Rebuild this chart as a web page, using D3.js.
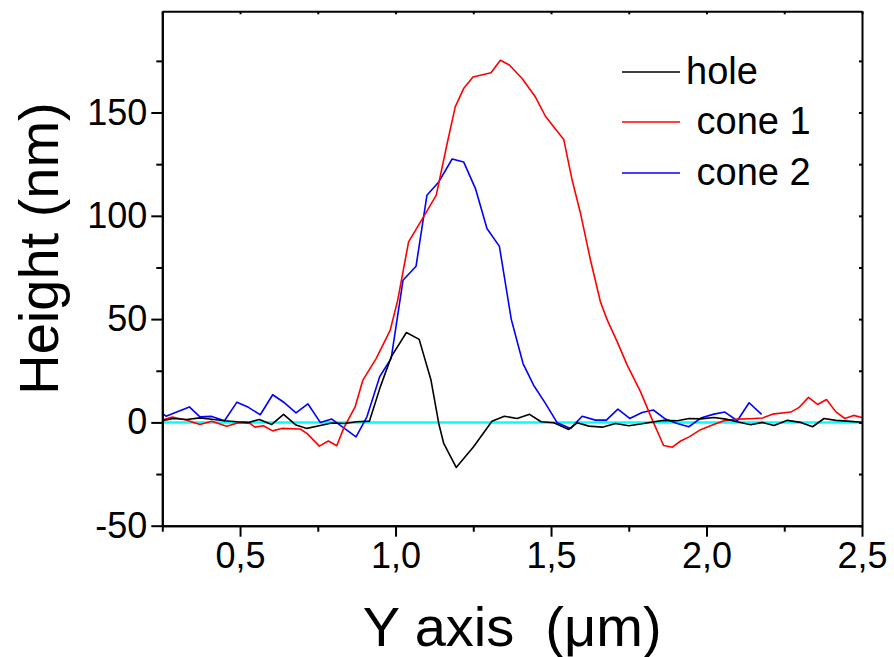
<!DOCTYPE html>
<html>
<head>
<meta charset="utf-8">
<script src="https://cdn.jsdelivr.net/npm/d3@7"></script>
<style>
  body { margin: 0; background: #fff; }
  svg { display: block; font-family: "Liberation Sans", Arial, sans-serif; }
</style>
</head>
<body>
<svg id="chart" width="894" height="657"></svg>
<script>
// ---- data ----
const holeX = [0.25,0.285,0.329,0.371,0.409,0.450,0.490,0.527,0.562,0.602,0.640,0.680,0.715,0.758,0.795,0.835,0.876,0.916,0.951,0.986,1.035,1.076,1.114,1.139,1.155,1.195,1.251,1.310,1.350,1.391,1.431,1.468,1.509,1.557,1.584,1.622,1.665,1.707,1.750,1.788,1.831,1.863,1.906,1.944,1.981,2.024,2.062,2.099,2.142,2.180,2.217,2.260,2.303,2.341,2.378,2.416,2.453,2.5];
const holeY = [0.8,1.9,1.4,2.2,1.5,0.8,0.3,0,1.4,-1.0,3.9,-1.3,-2.9,-1.5,-0.3,-0.5,0.3,0.6,17.2,31.7,43.5,40.2,20.5,-0.5,-10.2,-21.8,-11.8,0.6,3.0,1.9,3.9,0.3,-0.2,-3.4,-0.2,-1.8,-2.3,-0.5,-1.6,-0.8,0.3,1.0,0.8,1.9,1.7,2.4,1.6,0.3,-1.1,0,-1.5,1.0,0,-2.1,1.9,1.0,0.6,0.1];

const cone1X = [0.25,0.282,0.329,0.371,0.409,0.457,0.495,0.532,0.548,0.575,0.605,0.634,0.693,0.715,0.755,0.784,0.811,0.833,0.870,0.895,0.938,0.983,1.007,1.042,1.090,1.131,1.166,1.192,1.219,1.249,1.307,1.337,1.366,1.407,1.450,1.482,1.509,1.541,1.568,1.595,1.627,1.659,1.681,1.713,1.745,1.788,1.826,1.862,1.890,1.917,1.944,1.981,2.019,2.056,2.099,2.140,2.180,2.212,2.271,2.298,2.328,2.357,2.386,2.416,2.445,2.473,2.5];
const cone1Y = [1.1,2.6,1.0,-1.0,0.6,-1.9,-0.2,-0.5,-2.3,-1.6,-4.1,-2.9,-3.2,-5.3,-11.5,-9.0,-11.3,-2.9,7.5,20.5,31.0,44.7,59.2,87.4,99.5,110.0,135.0,152.7,161.6,167.2,169.3,175.3,173.0,166.5,157.5,148.2,143.0,136.9,117.2,101.1,78.5,58.3,49.5,39.0,27.7,14.8,1.1,-11.2,-12.0,-9.0,-7.0,-3.5,-1.3,0.8,1.6,1.8,2.1,4.0,5.0,7.3,12.1,8.7,11.1,5.1,1.9,3.4,2.4];

const cone2X = [0.25,0.262,0.337,0.371,0.409,0.450,0.490,0.527,0.565,0.605,0.643,0.680,0.718,0.758,0.795,0.873,0.908,0.949,0.986,1.024,1.066,1.101,1.139,1.182,1.219,1.257,1.294,1.334,1.372,1.410,1.444,1.482,1.520,1.563,1.600,1.643,1.678,1.715,1.753,1.793,1.829,1.868,1.906,1.943,1.984,2.024,2.059,2.099,2.137,2.177];
const cone2Y = [4.4,3.0,7.5,2.7,2.9,0.8,9.8,7.3,3.7,13.4,9.5,4.6,9.0,0,1.6,-7.0,2.7,22.1,31.0,68.8,75.6,110.0,116.4,127.5,126.1,113.2,93.9,85.2,50.0,28.5,18.0,9.2,-0.2,-2.9,3.0,1.1,1.1,6.4,1.9,4.8,6.0,1.6,-0.5,-2.1,2.3,4.0,5.0,0.8,9.5,3.9];

const seriesNames = ["hole", " cone 1", " cone 2"];
const seriesColors = ["#000000", "#ff0000", "#0000ff"];

const xMajorTicks = [0.5, 1.0, 1.5, 2.0, 2.5];
const xTickLabels = ["0,5", "1,0", "1,5", "2,0", "2,5"];
const xMinorTicks = [0.25, 0.75, 1.25, 1.75, 2.25];
const yMajorTicks = [-50, 0, 50, 100, 150];
const yTickLabels = ["-50", "0", "50", "100", "150"];
const yMinorTicks = [-25, 25, 75, 125, 175];

const xTitle = "Y axis  (\u03bcm)";
const yTitle = "Height (nm)";

// ---- layout ----
const L = 162.3, R = 862, T = 11.3, B = 525.7;
const x = d3.scaleLinear().domain([0.25, 2.5]).range([L, R]);
const y = d3.scaleLinear().domain([-50, 199]).range([B, T]);

const svg = d3.select("#chart");

svg.append("defs").append("clipPath").attr("id", "clip")
  .append("rect").attr("x", L).attr("y", T).attr("width", R - L).attr("height", B - T);

// zero reference line
svg.append("line")
  .attr("x1", x(0.25)).attr("x2", x(2.5))
  .attr("y1", y(0)).attr("y2", y(0))
  .attr("stroke", "#00ffff").attr("stroke-width", 2.5);

const line = d3.line().x(d => x(d[0])).y(d => y(d[1]));
const series = [
  d3.zip(holeX, holeY),
  d3.zip(cone1X, cone1Y),
  d3.zip(cone2X, cone2Y)
];
const g = svg.append("g").attr("clip-path", "url(#clip)");
[2, 1, 0].forEach(i => {
  g.append("path").datum(series[i])
    .attr("d", line)
    .attr("fill", "none")
    .attr("stroke", seriesColors[i])
    .attr("stroke-width", 1.6)
    .attr("stroke-linejoin", "round");
});

// ---- axes ----
function styleAxis(sel) {
  sel.select(".domain").attr("stroke", "#000").attr("stroke-width", 2);
  sel.selectAll(".tick line").attr("stroke", "#000").attr("stroke-width", 2);
  sel.selectAll(".tick text").attr("fill", "#000")
    .style("font-size", "36px").style("font-family", "'Liberation Sans', Arial, sans-serif");
}

// bottom
const gb = svg.append("g").attr("transform", `translate(0,${B})`)
  .call(d3.axisBottom(x).tickValues(xMajorTicks).tickSize(11).tickSizeOuter(0).tickPadding(6)
    .tickFormat((d, i) => xTickLabels[i]));
styleAxis(gb);
gb.selectAll(".tick text").attr("dy", "0.71em");
const gbm = svg.append("g").attr("transform", `translate(0,${B})`)
  .call(d3.axisBottom(x).tickValues(xMinorTicks).tickSize(6).tickSizeOuter(0).tickFormat(""));
styleAxis(gbm);

// left
const gl = svg.append("g").attr("transform", `translate(${L},0)`)
  .call(d3.axisLeft(y).tickValues(yMajorTicks).tickSize(11).tickSizeOuter(0).tickPadding(4)
    .tickFormat((d, i) => yTickLabels[i]));
styleAxis(gl);
const glm = svg.append("g").attr("transform", `translate(${L},0)`)
  .call(d3.axisLeft(y).tickValues(yMinorTicks).tickSize(6).tickSizeOuter(0).tickFormat(""));
styleAxis(glm);

// top (ticks inward)
const gt = svg.append("g").attr("transform", `translate(0,${T})`)
  .call(d3.axisTop(x).tickValues(xMajorTicks.concat(xMinorTicks)).tickSize(-3).tickSizeOuter(0).tickFormat(""));
styleAxis(gt);
// right (ticks inward)
const gr = svg.append("g").attr("transform", `translate(${R},0)`)
  .call(d3.axisRight(y).tickValues(yMajorTicks.concat(yMinorTicks)).tickSize(-3).tickSizeOuter(0).tickFormat(""));
styleAxis(gr);

// ---- titles ----
svg.append("text")
  .attr("x", (L + R) / 2).attr("y", 646)
  .attr("text-anchor", "middle")
  .style("white-space", "pre")
  .style("font-size", "56px")
  .text(xTitle);

svg.append("text")
  .attr("transform", `translate(58,${(T + B) / 2 - 20}) rotate(-90)`)
  .attr("text-anchor", "middle")
  .style("font-size", "56px")
  .text(yTitle);

// ---- legend ----
const legY = [72, 122, 173];
seriesNames.forEach((name, i) => {
  svg.append("line")
    .attr("x1", 622).attr("x2", 680)
    .attr("y1", legY[i]).attr("y2", legY[i])
    .attr("stroke", seriesColors[i]).attr("stroke-width", 1.4);
  svg.append("text")
    .attr("x", 686).attr("y", legY[i] + 12)
    .style("white-space", "pre")
    .style("font-size", "38px")
    .text(name);
});
</script>
</body>
</html>
